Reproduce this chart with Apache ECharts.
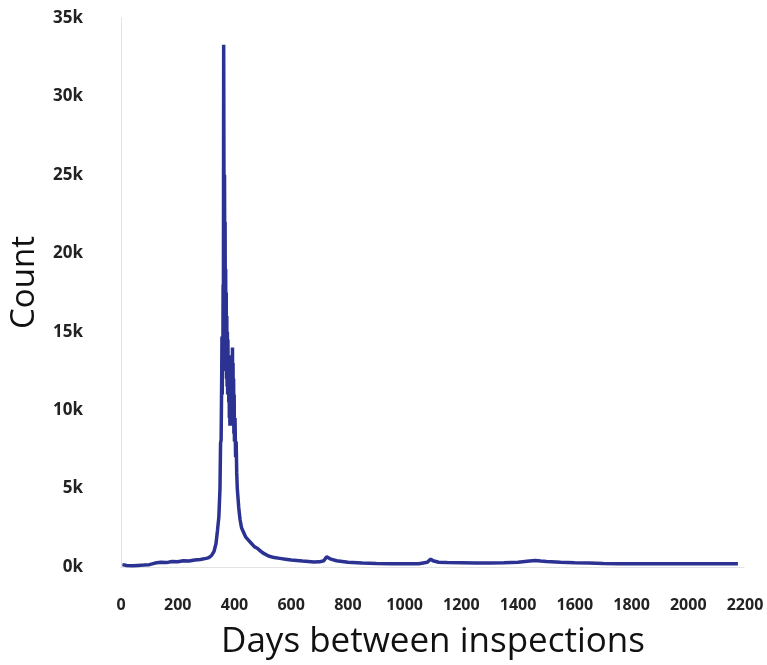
<!DOCTYPE html>
<html>
<head>
<meta charset="utf-8">
<script src="https://cdn.jsdelivr.net/npm/echarts@6/dist/echarts.min.js"></script>
<style>html,body{margin:0;padding:0;background:#fff;}#c{width:767px;height:665px;}</style>
</head>
<body>
<div id="c"></div>
<script>
// Days between inspections (x) and count (y)
const days = [5,20,40,60,80,100,120,140,160,180,200,220,240,260,280,300,310,320,328,335,340,345,349,351,353,355,356,357,358,359,360,361,362,363,364,365,366,367,368,369,370,371,372,373,374,375,376,377,378,379,380,381,382,383,384,385,386,387,388,389,390,391,392,393,394,395,396,397,398,399,400,402,404,406,408,410,413,415,418,420,425,430,440,450,460,470,480,490,500,520,540,560,580,600,620,640,660,680,700,715,725,732,740,760,780,800,850,900,950,1000,1050,1080,1092,1100,1120,1150,1200,1250,1300,1350,1400,1440,1460,1480,1500,1550,1600,1650,1700,1750,1800,1850,1900,1950,2000,2050,2100,2150,2175];
const counts = [150,100,80,100,120,150,250,300,280,350,330,400,380,450,480,550,600,750,1000,1500,2300,3200,5000,7900,8100,12000,14700,11000,14000,12500,18000,15000,33300,25000,20000,25000,17500,22000,14000,19000,12500,17500,12000,16000,11500,15000,11000,14500,11000,13500,10500,13000,9500,12500,9000,11500,9500,13000,9000,12500,10000,13500,9500,14000,10000,13000,9000,12000,8500,11000,8000,9500,7000,8000,6000,5000,4300,3800,3300,3000,2500,2300,1900,1700,1500,1300,1200,1050,900,700,600,550,500,450,420,380,350,320,330,400,650,700,500,400,350,300,250,220,200,200,210,300,500,400,300,280,270,260,260,270,300,380,420,380,350,300,270,250,220,210,200,200,210,210,200,200,200,200,200];
const xTicks = [0,200,400,600,800,1000,1200,1400,1600,1800,2000,2200];
const yTicks = ['0k','5k','10k','15k','20k','25k','30k','35k'];

const chart = echarts.init(document.getElementById('c'));
const fontFam = '"Open Sans", "Liberation Sans", sans-serif';
chart.setOption({
  backgroundColor: '#fff',
  animation: false,
  grid: {left: 120, right: 22, top: 18, bottom: 98},
  xAxis: {
    type: 'value', min: 0, max: 2200, interval: 200,
    name: 'Days between inspections', nameLocation: 'middle', nameGap: 58,
    nameTextStyle: {fontFamily: fontFam, fontSize: 35, color: '#111'},
    axisLine: {show: true, lineStyle: {color: '#ddd', type: 'dotted'}},
    axisTick: {show: false},
    splitLine: {show: false},
    axisLabel: {margin: 30, fontFamily: fontFam, fontSize: 16, fontWeight: 'bold', color: '#222',
      formatter: v => xTicks.indexOf(v) >= 0 ? String(v) : ''}
  },
  yAxis: {
    type: 'value', min: 0, max: 35000, interval: 5000,
    name: 'Count', nameLocation: 'middle', nameGap: 80,
    nameTextStyle: {fontFamily: fontFam, fontSize: 33, color: '#111', padding: [0, 0, 0, 20]},
    axisLine: {show: true, lineStyle: {color: '#ddd', type: 'dotted'}},
    axisTick: {show: false},
    splitLine: {show: false},
    axisLabel: {margin: 38, fontFamily: fontFam, fontSize: 17, fontWeight: 'bold', color: '#222',
      formatter: v => yTicks[Math.round(v / 5000)]}
  },
  series: [{
    type: 'line',
    data: days.map((d, i) => [d, counts[i]]),
    showSymbol: false,
    lineStyle: {color: '#2b3292', width: 3.5},
    itemStyle: {color: '#2b3292'}
  }]
});
</script>
</body>
</html>
